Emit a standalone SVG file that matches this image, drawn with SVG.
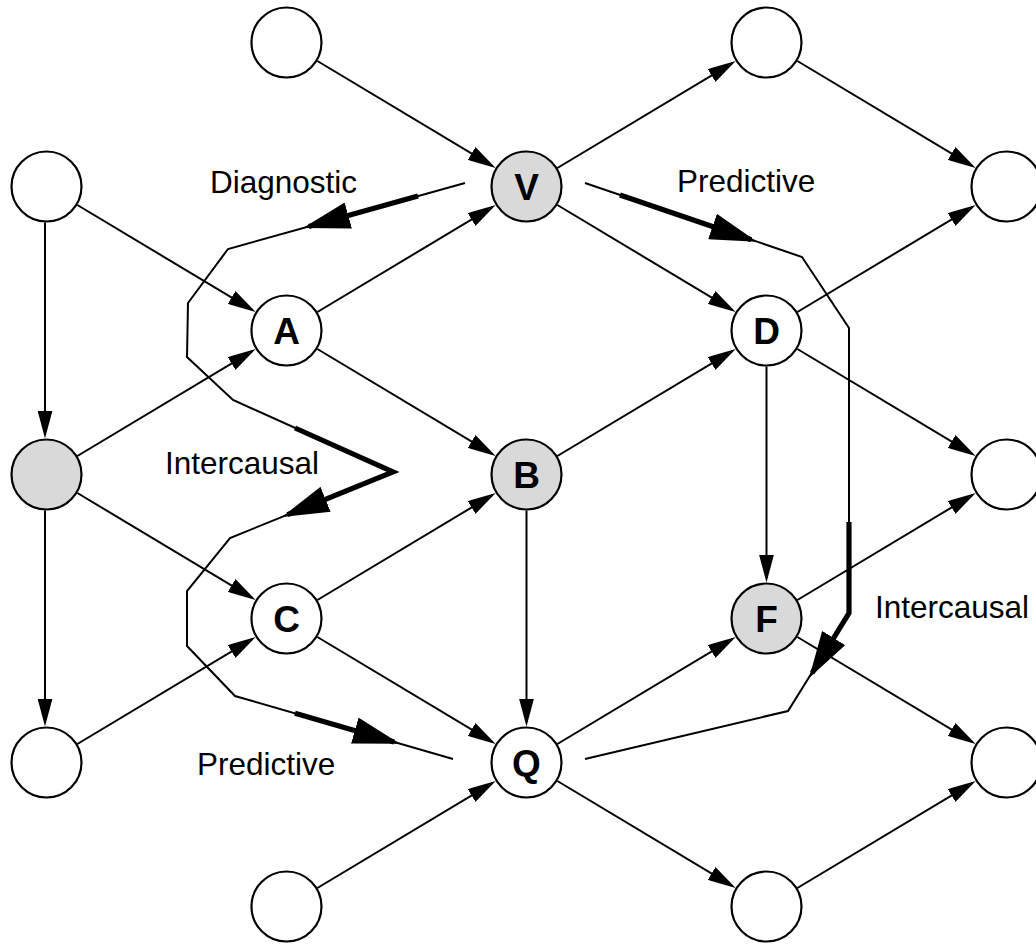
<svg xmlns="http://www.w3.org/2000/svg" width="1036" height="944" viewBox="0 0 1036 944">
  <style>
    .node circle { fill: #ffffff; stroke: #000; stroke-width: 2.2; }
    .node.ev circle { fill: #d9d9d9; }
    .node text { font-family: "Liberation Sans", Arial, sans-serif; font-weight: bold; font-size: 37px; text-anchor: middle; fill: #000; }
    .edge { stroke: #000; stroke-width: 2; fill: none; marker-end: url(#arrow); }
    .route { stroke: #000; stroke-width: 2; fill: none; stroke-linejoin: miter; }
    .flow { stroke: #000; stroke-width: 5.2; fill: none; stroke-linejoin: miter; marker-end: url(#bigarrow); }
    .label { font-family: "Liberation Sans", Arial, sans-serif; font-size: 31.5px; fill: #000; }
  </style>
  <defs>
    <marker id="arrow" viewBox="0 0 28 15" refX="24" refY="7.5" markerWidth="28" markerHeight="15" markerUnits="userSpaceOnUse" orient="auto">
      <path d="M0,0 L28,7.5 L0,15 z" fill="#000"/>
    </marker>
    <marker id="bigarrow" viewBox="0 0 47 27" refX="41" refY="13.5" markerWidth="47" markerHeight="27" markerUnits="userSpaceOnUse" orient="auto">
      <path d="M0,0 L47,13.5 L0,27 z" fill="#000"/>
    </marker>
  </defs>

  <!-- causal links -->
  <g id="connectors">
    <line class="edge" x1="317.4" y1="61.0" x2="492.2" y2="165.9"/>
    <line class="edge" x1="557.4" y1="168.0" x2="732.2" y2="63.1"/>
    <line class="edge" x1="797.4" y1="61.0" x2="972.2" y2="165.9"/>
    <line class="edge" x1="77.4" y1="205.0" x2="252.2" y2="309.9"/>
    <line class="edge" x1="317.4" y1="312.0" x2="492.2" y2="207.1"/>
    <line class="edge" x1="557.4" y1="205.0" x2="732.2" y2="309.9"/>
    <line class="edge" x1="797.4" y1="312.0" x2="972.2" y2="207.1"/>
    <line class="edge" x1="317.4" y1="349.0" x2="492.2" y2="453.9"/>
    <line class="edge" x1="77.4" y1="456.0" x2="252.2" y2="351.1"/>
    <line class="edge" x1="557.4" y1="456.0" x2="732.2" y2="351.1"/>
    <line class="edge" x1="797.4" y1="349.0" x2="972.2" y2="453.9"/>
    <line class="edge" x1="77.4" y1="493.0" x2="252.2" y2="597.9"/>
    <line class="edge" x1="317.4" y1="600.0" x2="492.2" y2="495.1"/>
    <line class="edge" x1="797.4" y1="600.0" x2="972.2" y2="495.1"/>
    <line class="edge" x1="317.4" y1="637.0" x2="492.2" y2="741.9"/>
    <line class="edge" x1="77.4" y1="744.0" x2="252.2" y2="639.1"/>
    <line class="edge" x1="557.4" y1="744.0" x2="732.2" y2="639.1"/>
    <line class="edge" x1="797.4" y1="637.0" x2="972.2" y2="741.9"/>
    <line class="edge" x1="317.4" y1="888.0" x2="492.2" y2="783.1"/>
    <line class="edge" x1="557.4" y1="781.0" x2="732.2" y2="885.9"/>
    <line class="edge" x1="797.4" y1="888.0" x2="972.2" y2="783.1"/>
    <line class="edge" x1="45" y1="222.5" x2="45" y2="434.5"/>
    <line class="edge" x1="45" y1="510.5" x2="45" y2="722.5"/>
    <line class="edge" x1="766.5" y1="366.5" x2="766.5" y2="578.5"/>
    <line class="edge" x1="526.5" y1="510.5" x2="526.5" y2="722.5"/>

    <!-- reasoning routes -->
    <path class="route" d="M465,183 L228,249 L188,303 L187,357 L233,400 L393,472 L230,538 L187,591 L187,646 L235,696 L453,759"/>
    <path class="route" d="M585,183 L802,257 L849,328 L849,613 L788,711 L585,759"/>
    <path class="flow" d="M418,196.1 L308.8,226.5"/>
    <path class="flow" d="M295,428 L393,472 L287.6,514.7"/>
    <path class="flow" d="M295,713.3 L394.2,742"/>
    <path class="flow" d="M620,195 L751.3,239.8"/>
    <path class="flow" d="M849,522 L849,613 L812.2,672.9"/>
  </g>

  <!-- nodes -->
  <g id="n-t1" class="node"><circle cx="286.5" cy="42.5" r="35"/></g>
  <g id="n-t2" class="node"><circle cx="766.5" cy="42.5" r="35"/></g>
  <g id="n-l1" class="node"><circle cx="46.5" cy="186.5" r="35"/></g>
  <g id="n-v" class="node ev"><circle cx="526.5" cy="186.5" r="35"/><text x="526.5" y="199.5">V</text></g>
  <g id="n-r1" class="node"><circle cx="1006.5" cy="186.5" r="35"/></g>
  <g id="n-a" class="node"><circle cx="286.5" cy="330.5" r="35"/><text x="286.5" y="343.5">A</text></g>
  <g id="n-d" class="node"><circle cx="766.5" cy="330.5" r="35"/><text x="766.5" y="343.5">D</text></g>
  <g id="n-l2" class="node ev"><circle cx="46.5" cy="474.5" r="35"/></g>
  <g id="n-b" class="node ev"><circle cx="526.5" cy="474.5" r="35"/><text x="526.5" y="487.5">B</text></g>
  <g id="n-r2" class="node"><circle cx="1006.5" cy="474.5" r="35"/></g>
  <g id="n-c" class="node"><circle cx="286.5" cy="618.5" r="35"/><text x="286.5" y="631.5">C</text></g>
  <g id="n-f" class="node ev"><circle cx="766.5" cy="618.5" r="35"/><text x="766.5" y="631.5">F</text></g>
  <g id="n-l3" class="node"><circle cx="46.5" cy="762.5" r="35"/></g>
  <g id="n-q" class="node"><circle cx="526.5" cy="762.5" r="35"/><text x="526.5" y="775.5">Q</text></g>
  <g id="n-r3" class="node"><circle cx="1006.5" cy="762.5" r="35"/></g>
  <g id="n-b1" class="node"><circle cx="286.5" cy="906.5" r="35"/></g>
  <g id="n-b2" class="node"><circle cx="766.5" cy="906.5" r="35"/></g>

  <!-- route labels -->
  <g id="labels">
    <text class="label" x="210" y="193">Diagnostic</text>
    <text class="label" x="677" y="192">Predictive</text>
    <text class="label" x="165" y="474">Intercausal</text>
    <text class="label" x="875" y="618">Intercausal</text>
    <text class="label" x="197" y="775">Predictive</text>
  </g>
</svg>
